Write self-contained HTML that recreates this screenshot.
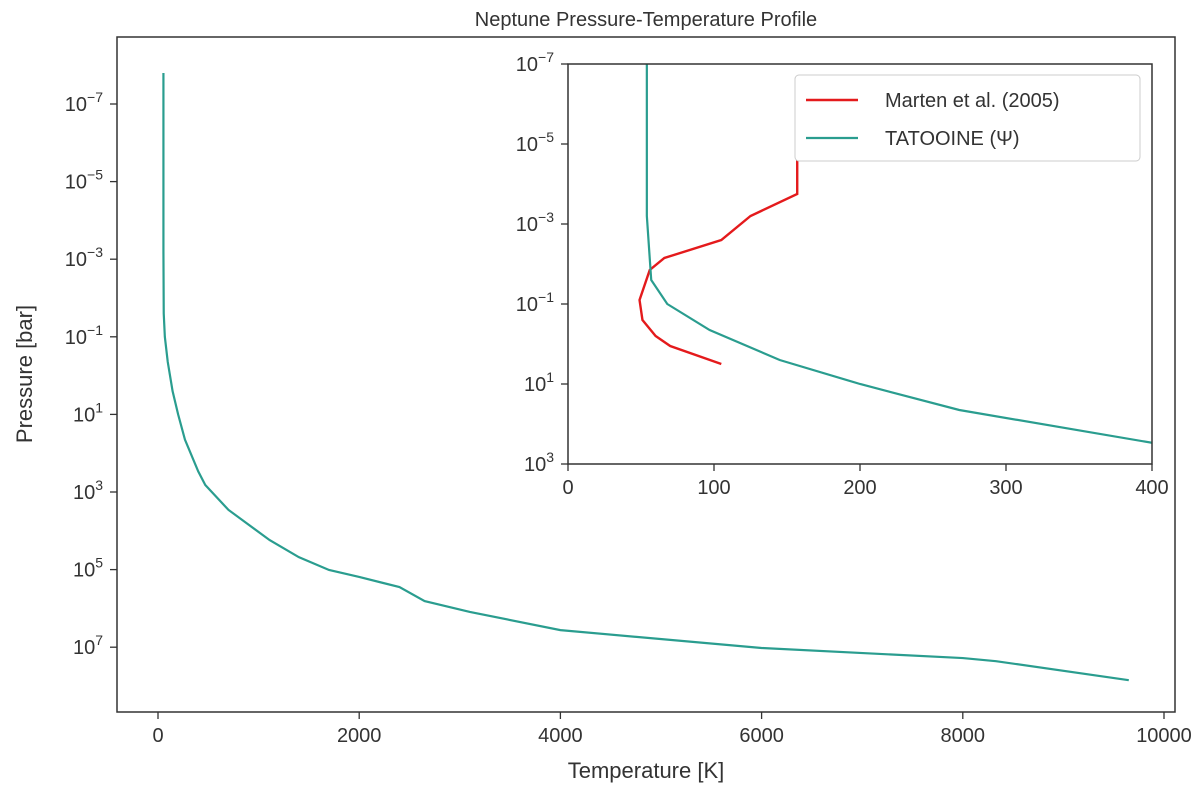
<!DOCTYPE html>
<html><head><meta charset="utf-8"><style>
body{margin:0;background:#fff}
svg{font-family:"Liberation Sans","DejaVu Sans",sans-serif;fill:#333}
</style></head><body>
<svg id="c" width="1200" height="792" viewBox="0 0 1200 792"></svg>
<script>
const tatT=[54,54,57,68,97,145,200,268,400,470,700,1110,1400,1700,2000,2400,2650,3100,4000,6000,8000,8330,9650];
const tatLogP=[-7.8,-3.2,-1.6,-1,-0.35,0.4,1,1.65,2.47,2.82,3.46,4.24,4.68,5.01,5.19,5.45,5.81,6.09,6.56,7.02,7.28,7.36,7.85];
const martT=[157,157,157,125,105,66,56,49,51,60,70,105];
const martLogP=[-6,-4.5,-3.75,-3.2,-2.6,-2.15,-1.85,-1.1,-0.6,-0.2,0.05,0.5];
const mainXTicks=[0,2000,4000,6000,8000,10000];
const mainYTicks=[-7,-5,-3,-1,1,3,5,7];
const insetXTicks=[0,100,200,300,400];
const insetYTicks=[-7,-5,-3,-1,1,3];
const NS="http://www.w3.org/2000/svg";
const svg=document.getElementById('c');
function el(t,a,p){const e=document.createElementNS(NS,t);for(const k in a)e.setAttribute(k,a[k]);(p||svg).appendChild(e);return e;}
function txt(x,y,s,anchor,size,p){const e=el('text',{x:x,y:y,'text-anchor':anchor,'font-size':size},p);e.textContent=s;return e;}
function pow(x,y,e,p){const t=el('text',{x:x,y:y,'text-anchor':'end','font-size':20},p);t.textContent='10';const s=el('tspan',{dy:-9,'font-size':14},t);s.textContent=e;return t;}
const mx=v=>158+(v/10000)*1006, my=v=>104+(v+7)*38.8;
el('rect',{x:117,y:37,width:1058,height:675,fill:'none',stroke:'#333','stroke-width':1.5,});
mainXTicks.forEach(v=>{el('line',{x1:mx(v),x2:mx(v),y1:712,y2:719,stroke:'#333','stroke-width':1.3});const t=txt(mx(v),742,String(v),'middle',20);});
mainYTicks.forEach(v=>{el('line',{x1:110,x2:117,y1:my(v),y2:my(v),stroke:'#333','stroke-width':1.3});const t=pow(103,my(v)+7,v<0?'\u2212'+(-v):String(v));});
const tt=txt(646,26,'Neptune Pressure-Temperature Profile','middle',20);
const xl=txt(646,778,'Temperature [K]','middle',22);
const yl=txt(0,0,'Pressure [bar]','middle',22);yl.setAttribute('transform','translate(32,374) rotate(-90)');
el('path',{d:tatT.map((t,i)=>(i?'L':'M')+mx(t)+','+my(tatLogP[i])).join(''),fill:'none',stroke:'#2a9d8f','stroke-width':2.2,});
const ix=v=>568+v*1.46, iy=v=>64+(v+7)*40;
el('rect',{x:495,y:50,width:668,height:455,fill:'#fff'});
el('clipPath',{id:'ic'});el('rect',{x:568,y:64,width:584,height:400},svg.lastChild);
const g=el('g',{'clip-path':'url(#ic)'});
el('path',{d:martT.map((t,i)=>(i?'L':'M')+ix(t)+','+iy(martLogP[i])).join(''),fill:'none',stroke:'#e41a1c','stroke-width':2.4,},g);
el('path',{d:tatT.map((t,i)=>(i?'L':'M')+ix(t)+','+iy(tatLogP[i])).join(''),fill:'none',stroke:'#2a9d8f','stroke-width':2.2,},g);
el('rect',{x:568,y:64,width:584,height:400,fill:'none',stroke:'#333','stroke-width':1.5,});
insetXTicks.forEach(v=>{el('line',{x1:ix(v),x2:ix(v),y1:464,y2:471,stroke:'#333','stroke-width':1.3});const t=txt(ix(v),494,String(v),'middle',20);});
insetYTicks.forEach(v=>{el('line',{x1:561,x2:568,y1:iy(v),y2:iy(v),stroke:'#333','stroke-width':1.3});const t=pow(554,iy(v)+7,v<0?'\u2212'+(-v):String(v));});
const lg=el('g',{});
el('rect',{x:795,y:75,width:345,height:86,rx:4,fill:'#fff',stroke:'#ccc'},lg);
el('line',{x1:806,x2:858,y1:100,y2:100,stroke:'#e41a1c','stroke-width':2.4},lg);
txt(885,107,'Marten et al. (2005)','start',20,lg);
el('line',{x1:806,x2:858,y1:138,y2:138,stroke:'#2a9d8f','stroke-width':2.2},lg);
txt(885,145,'TATOOINE (\u03A8)','start',20,lg);
</script>
</body></html>
